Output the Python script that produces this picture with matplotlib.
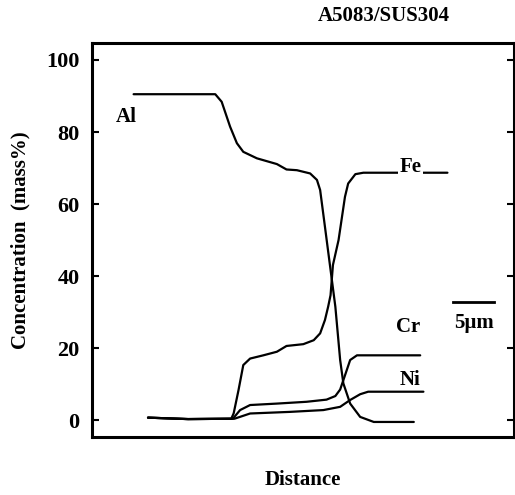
import numpy as np
import matplotlib
matplotlib.use("Agg")
import matplotlib.pyplot as plt

plt.rcParams['font.family'] = ['Liberation Serif', 'DejaVu Serif']
plt.rcParams['font.weight'] = 'bold'

# distance in um, concentration in mass%
al_x = [5.2, 15.4, 16.2, 17.25, 18.1, 18.9, 20.6, 23.1, 24.3, 25.6, 27.25, 28.1, 28.5,
        29.1, 29.75, 30.4, 31.0, 31.4, 32.25, 33.5, 35.2, 40.2]
al_y = [90.5, 90.5, 88.4, 81.5, 76.9, 74.5, 72.7, 71.1, 69.6, 69.4, 68.5, 66.7, 63.9,
        53.7, 42.6, 31.5, 16.7, 10.2, 4.6, 0.9, -0.5, -0.5]

fe_x = [7.0, 12.0, 17.4, 17.7, 18.3, 18.9, 19.75, 21.4, 23.1, 24.3, 26.4, 27.7, 28.5,
        29.1, 29.5, 29.8, 30.1, 30.8, 31.6, 32.0, 32.9, 33.9, 44.4]
fe_y = [0.7, 0.3, 0.4, 1.9, 8.3, 15.3, 17.1, 18.0, 19.0, 20.6, 21.1, 22.2, 24.1,
        27.8, 31.5, 34.7, 43.1, 50.0, 62.0, 65.7, 68.3, 68.7, 68.7]

cr_x = [7.0, 12.0, 17.6, 18.5, 19.75, 23.1, 26.8, 29.3, 30.4, 31.0, 31.75, 32.25, 33.1, 41.0]
cr_y = [0.7, 0.3, 0.4, 2.8, 4.2, 4.6, 5.1, 5.7, 6.7, 8.5, 13.4, 16.7, 18.0, 18.0]

ni_x = [7.0, 12.0, 17.8, 19.75, 24.75, 28.9, 31.0, 32.25, 33.5, 34.5, 41.4]
ni_y = [0.7, 0.3, 0.4, 1.85, 2.3, 2.8, 3.7, 5.6, 7.2, 7.9, 7.9]

labels = ['Al', 'Fe', 'Cr', 'Ni']
label_pos = [(4.25, 84.2), (39.8, 70.4), (39.5, 25.9), (39.75, 11.1)]
yticks = [0, 20, 40, 60, 80, 100]

fig = plt.figure(figsize=(5.15, 4.95), dpi=100)
ax = fig.add_axes([0.1786, 0.117, 0.82, 0.796])

for xs, ys in [(al_x, al_y), (fe_x, fe_y), (cr_x, cr_y), (ni_x, ni_y)]:
    ax.plot(xs, ys, color='black', lw=1.6, solid_capstyle='round')

for name, (tx, ty) in zip(labels, label_pos):
    bb = dict(facecolor='white', edgecolor='none', pad=1) if name == 'Fe' else None
    ax.text(tx, ty, name, fontsize=15, fontweight='bold', ha='center', va='center', bbox=bb)

# scale bar
ax.plot([45.1, 50.25], [32.7, 32.7], color='black', lw=2)
ax.text(47.7, 26.9, '5\u00b5m', fontsize=15, fontweight='bold', ha='center', va='center')

ax.set_xlim(0, 52.75)
ax.set_ylim(-4.7, 104.7)
ax.set_yticks(yticks)
ax.set_xticks([])
ax.tick_params(axis='y', direction='in', length=5, width=1.5, right=True,
               labelsize=16, pad=9)
for s in ax.spines.values():
    s.set_linewidth(2.2)

ax.set_ylabel('Concentration  (mass%)', fontsize=15, fontweight='bold', labelpad=11)
ax.set_xlabel('Distance', fontsize=15, fontweight='bold', labelpad=24)
fig.text(0.745, 0.968, 'A5083/SUS304', fontsize=15, fontweight='bold', ha='center', va='center')

fig.savefig('out.png', dpi=100)
